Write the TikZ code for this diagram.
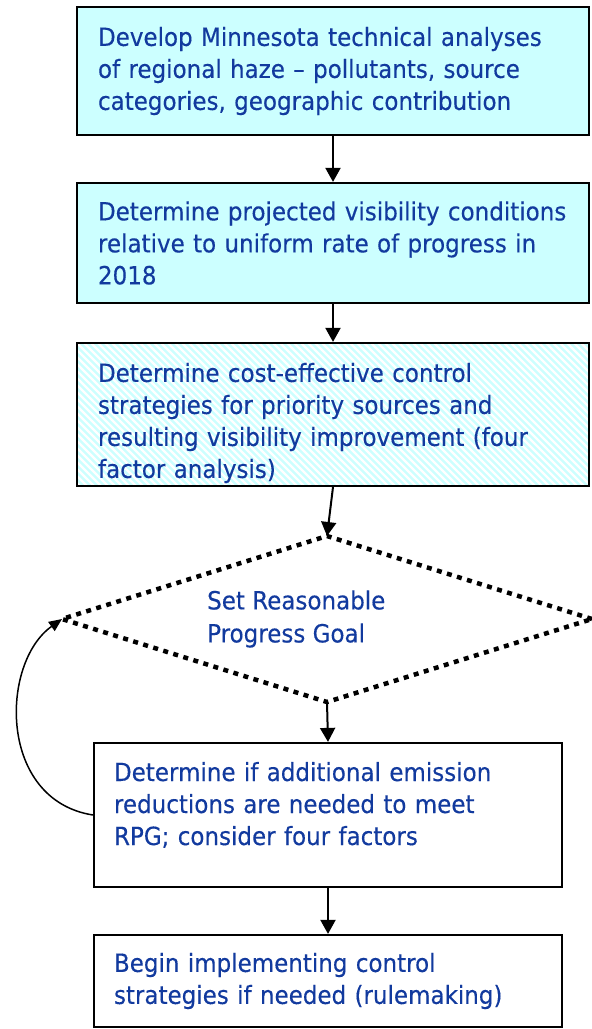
\documentclass[tikz,border=0pt]{standalone}
\usepackage{fontspec}
\setmainfont[FakeStretch=0.92,FakeBold=0.3]{DejaVu Sans}
\usetikzlibrary{arrows.meta,shapes.geometric,backgrounds}

\definecolor{boxcyan}{RGB}{204,255,255}
\definecolor{textblue}{RGB}{18,58,158}

\tikzset{
	stepbox/.style={draw, line width=2.2pt, text=textblue, align=left, inner xsep=21pt, inner ysep=0pt, font=\fontsize{25pt}{32pt}\selectfont},
	flow/.style={line width=2pt, -{Triangle[width=15pt,length=14pt]}},
	back/.style={line width=1.5pt, -{Triangle[width=11pt,length=13pt]}},
}

\begin{document}
\begin{tikzpicture}[x=1pt,y=-1pt]
	\useasboundingbox (0,0) rectangle (592,1029);

	% boxes
	\node[stepbox, fill=boxcyan, text width=470pt, minimum height=128pt] (analyses) at (333,71) {Develop Minnesota technical analyses\\of regional haze – pollutants, source\\categories, geographic contribution};
	\node[stepbox, fill=boxcyan, text width=470pt, minimum height=120pt] (projected) at (333,243) {Determine projected visibility conditions\\relative to uniform rate of progress in\\2018};
	\node[stepbox, text width=470pt, minimum height=143pt, text height=36pt] (strategies) at (333,414.5) {Determine cost-effective control\\strategies for priority sources and\\resulting visibility improvement (four\\factor analysis)};
	\node[stepbox, text width=428pt, inner xsep=20pt, minimum height=144pt, text depth=87pt] (additional) at (328,815) {Determine if additional emission\\reductions are needed to meet\\RPG; consider four factors};
	\node[stepbox, text width=428pt, inner xsep=20pt, minimum height=92pt] (begin) at (328,981) {Begin implementing control\\strategies if needed (rulemaking)};

	% hatching
	\begin{scope}[on background layer]
		\fill[boxcyan] (strategies.south west) rectangle (strategies.north east);
		\clip (strategies.south west) rectangle (strategies.north east);
		\foreach \i in {-150,-143,...,600}
			\draw[white, line width=2.4pt] (\i,340) -- (\i+150,490);
	\end{scope}

	% decision
	\node[draw, diamond, line width=4.5pt, dash pattern=on 5pt off 5.5pt, minimum width=530pt, minimum height=166pt, inner sep=0pt, outer sep=0pt] (rpg) at (327,619) {};
	\node[text=textblue, align=left, inner sep=0pt, anchor=west, font=\fontsize{25pt}{33pt}\selectfont] (rpglabel) at (207,619) {Set Reasonable\\Progress Goal};

	% arrows
	\draw[flow] (analyses) -- (projected);
	\draw[flow] (projected) -- (strategies);
	\draw[flow] (strategies.south) -- (rpg.north);
	\draw[flow] (rpg.south) -- (additional.north);
	\draw[flow] (additional) -- (begin);

	% back to goal
	\draw[back] (additional.west) .. controls +(-95,-15) and +(-62,44) .. (rpg.west);

\end{tikzpicture}
\end{document}
